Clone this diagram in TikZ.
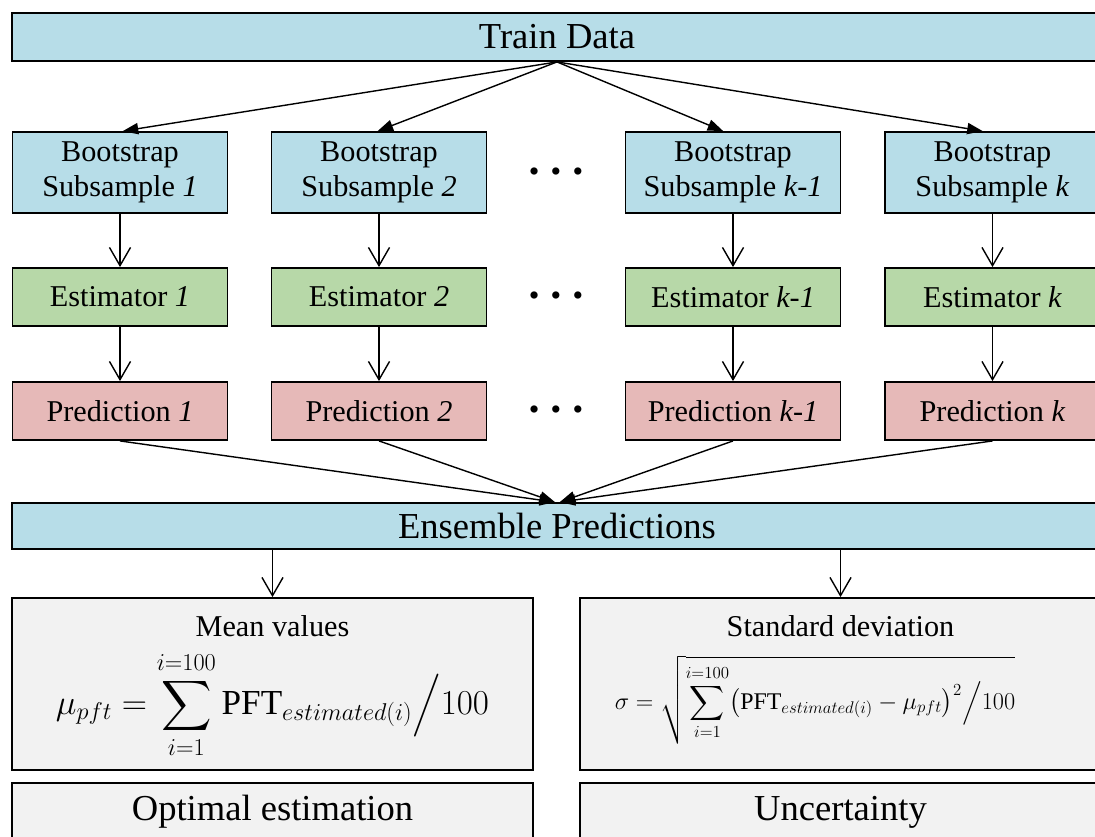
\documentclass[tikz,border=0pt]{standalone}
\usepackage{amsmath}
\usepackage{fontspec}
\setmainfont{Liberation Serif}
\usetikzlibrary{arrows.meta}

\begin{document}
\begin{tikzpicture}[x=0.025cm, y=-0.025cm,
    box/.style={draw, line width=1.3pt, align=center, inner sep=0pt, font=\fontsize{21.5}{25}\selectfont},
    wide/.style={box, fill=boxblue, minimum width=27.25cm, minimum height=1.2cm, font=\fontsize{26}{30}\selectfont},
    boot/.style={box, fill=boxblue, minimum width=5.375cm, minimum height=2.025cm},
    est/.style={box, fill=boxgreen, minimum width=5.375cm, minimum height=1.45cm},
    pred/.style={box, fill=boxred, minimum width=5.375cm, minimum height=1.45cm},
    panel/.style={box, fill=boxgray, minimum width=13.025cm, minimum height=4.3cm},
    result/.style={box, fill=boxgray, minimum width=13.025cm, minimum height=1.45cm, font=\fontsize{26}{30}\selectfont},
    dots/.style={font=\fontsize{21.5}{25}\selectfont},
    arr/.style={-{Triangle[length=11pt,width=8pt]}, line width=1pt},
    barb/.style={-{Straight Barb[length=13pt,width=15pt]}, line width=1pt}]
    % Define custom colors
    \definecolor{boxblue}{RGB}{183,221,232}
    \definecolor{boxgreen}{RGB}{183,216,168}
    \definecolor{boxred}{RGB}{230,185,184}
    \definecolor{boxgray}{RGB}{242,242,242}

    % Frame (the boxes run past the right and bottom edge)
    \useasboundingbox (0,0) rectangle (1095,836);
    \clip (0,0) rectangle (1095,836);

    % Train data
    \node[wide] (train) at (557,37) {Train Data};

    % Bootstrap subsamples
    \node[boot] (boot1) at (120,172.5) {Bootstrap\\Subsample \textit{1}};
    \node[boot] (boot2) at (379,172.5) {Bootstrap\\Subsample \textit{2}};
    \node[boot] (bootk1) at (733,172.5) {Bootstrap\\Subsample \textit{k-1}};
    \node[boot] (bootk) at (992.5,172.5) {Bootstrap\\Subsample \textit{k}};
    \node[dots] (dots1) at (556,175) {\textbullet\hspace{8pt}\textbullet\hspace{8pt}\textbullet};

    % Estimators
    \node[est] (est1) at (120,297) {Estimator \textit{1}};
    \node[est] (est2) at (379,297) {Estimator \textit{2}};
    \node[est] (estk1) at (733,297) {Estimator \textit{k-1}};
    \node[est] (estk) at (992.5,297) {Estimator \textit{k}};
    \node[dots] (dots2) at (556,299) {\textbullet\hspace{8pt}\textbullet\hspace{8pt}\textbullet};

    % Predictions
    \node[pred] (pred1) at (120,411) {Prediction \textit{1}};
    \node[pred] (pred2) at (379,411) {Prediction \textit{2}};
    \node[pred] (predk1) at (733,411) {Prediction \textit{k-1}};
    \node[pred] (predk) at (992.5,411) {Prediction \textit{k}};
    \node[dots] (dots3) at (556,413) {\textbullet\hspace{8pt}\textbullet\hspace{8pt}\textbullet};

    % Ensemble
    \node[wide, minimum height=1.15cm] (ens) at (557,526) {Ensemble Predictions};

    % Mean and standard deviation
    \node[panel] (mean) at (272.5,684) {};
    \node[box, draw=none] (meantitle) at (272.5,626) {Mean values};
    \node[font=\fontsize{25}{29}\selectfont] (meaneq) at (272.5,705)
        {$\displaystyle \mu_{pft} = \sum_{i=1}^{i=100} \mathrm{PFT}_{estimated(i)}\Big/100$};
    \node[panel] (std) at (840.5,684) {};
    \node[box, draw=none] (stdtitle) at (840.5,626) {Standard deviation};
    \node[font=\fontsize{17}{21}\selectfont] (stdeq) at (815,700)
        {$\displaystyle \sigma = \sqrt{\sum_{i=1}^{i=100}\bigl(\mathrm{PFT}_{estimated(i)}-\mu_{pft}\bigr)^2\Big/100}$};

    % Results
    \node[result] (opt) at (272.5,812) {Optimal estimation};
    \node[result] (unc) at (840.5,812) {Uncertainty};

    % Arrows
    \draw[arr] (train.south) -- ([xshift=2pt]boot1.north);
    \draw[arr] (train.south) -- ([xshift=-1pt]boot2.north);
    \draw[arr] (train.south) -- ([xshift=-7pt]bootk1.north);
    \draw[arr] (train.south) -- ([xshift=-7pt]bootk.north);
    \foreach \n in {1,2,k1,k} {
        \draw[barb] (boot\n) -- (est\n);
        \draw[barb] (est\n) -- (pred\n);
    }
    \draw[arr] (pred1.south) -- ([xshift=-1.5pt]ens.north);
    \draw[arr] (pred2.south) -- ([xshift=-1.5pt]ens.north);
    \draw[arr] (predk1.south) -- ([xshift=2pt]ens.north);
    \draw[arr] (predk.south) -- ([xshift=2pt]ens.north);
    \draw[barb] (ens.south -| mean.north) -- (mean.north);
    \draw[barb] (ens.south -| std.north) -- (std.north);
\end{tikzpicture}
\end{document}
